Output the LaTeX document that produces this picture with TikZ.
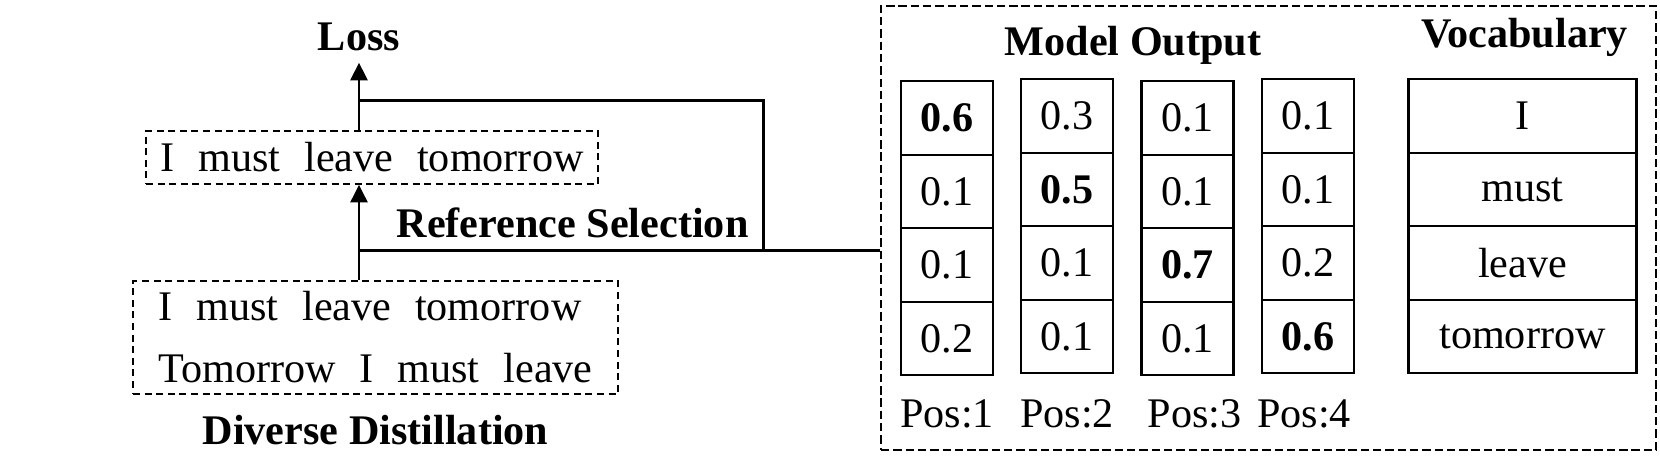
\documentclass[tikz,border=0pt]{standalone}
\usepackage{fontspec}
\setmainfont{Liberation Serif}
\usepackage{tikz}
\usetikzlibrary{arrows.meta,positioning,calc}
\newcommand{\widewords}[1]{{\spaceskip=6.8pt\relax #1}}
\tikzset{
  plaintxt/.style={inner sep=0pt, font=\fontsize{12}{14}\selectfont},
  titletxt/.style={inner sep=0pt, font=\fontsize{12}{14}\selectfont\bfseries},
  sentbox/.style={
    draw,
    dash pattern=on 2pt off 1.3pt,
    line width=0.45pt,
    align=left,
    inner sep=0pt,
    font=\fontsize{12}{17.6}\selectfont
  },
  groupbox/.style={draw, dash pattern=on 2.4pt off 1.1pt, line width=0.45pt, inner sep=0pt},
  cellbox/.style={
    draw,
    line width=0.6pt,
    minimum width=0.92cm,
    minimum height=0.735cm,
    inner sep=0pt,
    outer sep=0pt,
    font=\fontsize{12}{14}\selectfont
  },
  vocabbox/.style={cellbox, minimum width=2.28cm},
  flow/.style={-{Triangle[length=5pt,width=4.8pt]}, line width=0.8pt},
  link/.style={line width=0.8pt}
}

\begin{document}
\begin{tikzpicture}
\useasboundingbox (0,0) rectangle (16.6,-4.57);

% left side: selection of the reference
\node[titletxt] (loss) at (3.59,-0.37) {Loss};
\node[sentbox, minimum width=4.52cm, minimum height=0.53cm] (sel) at (3.72,-1.575) {\widewords{I must leave tomorrow}};
\node[sentbox, minimum width=4.85cm, minimum height=1.13cm] (cand) at (3.755,-3.375) {\widewords{I must leave tomorrow}\\\widewords{Tomorrow I must leave}};
\node[titletxt, below=0.2cm of cand] (divdist) {Diverse Distillation};
\node[titletxt] (refsel) at (5.726,-2.23) {Reference Selection};

% right side: model output and vocabulary
\node[groupbox, minimum width=7.75cm, minimum height=4.44cm] (outbox) at (12.685,-2.28) {};
\node[titletxt] (mtitle) at (11.33,-0.45) {Model Output};
\node[titletxt] (vtitle) at (15.245,-0.37) {Vocabulary};

\node[cellbox] (pos1a) at (9.47,-1.18) {\textbf{0.6}};
\node[cellbox, below=0pt of pos1a] (pos1b) {0.1};
\node[cellbox, below=0pt of pos1b] (pos1c) {0.1};
\node[cellbox, below=0pt of pos1c] (pos1d) {0.2};

\node[cellbox] (pos2a) at (10.67,-1.16) {0.3};
\node[cellbox, below=0pt of pos2a] (pos2b) {\textbf{0.5}};
\node[cellbox, below=0pt of pos2b] (pos2c) {0.1};
\node[cellbox, below=0pt of pos2c] (pos2d) {0.1};

\node[cellbox] (pos3a) at (11.875,-1.18) {0.1};
\node[cellbox, below=0pt of pos3a] (pos3b) {0.1};
\node[cellbox, below=0pt of pos3b] (pos3c) {\textbf{0.7}};
\node[cellbox, below=0pt of pos3c] (pos3d) {0.1};

\node[cellbox] (pos4a) at (13.08,-1.16) {0.1};
\node[cellbox, below=0pt of pos4a] (pos4b) {0.1};
\node[cellbox, below=0pt of pos4b] (pos4c) {0.2};
\node[cellbox, below=0pt of pos4c] (pos4d) {\textbf{0.6}};

\node[vocabbox] (vocI) at (15.225,-1.16) {I};
\node[vocabbox, below=0pt of vocI] (vocmust) {must};
\node[vocabbox, below=0pt of vocmust] (vocleave) {leave};
\node[vocabbox, below=0pt of vocleave] (voctom) {tomorrow};

\node[plaintxt, below=0.24cm of pos1d] (lab1) {Pos:1};
\node[plaintxt, below=0.26cm of pos2d] (lab2) {Pos:2};
\node[plaintxt, below=0.24cm of pos3d, xshift=0.07cm] (lab3) {Pos:3};
\node[plaintxt, below=0.26cm of pos4d, xshift=-0.04cm] (lab4) {Pos:4};

% connectors
\coordinate (jtop) at (3.59,-1.007);
\coordinate (jlow) at (3.59,-2.507);
\coordinate (bend) at (7.635,-2.507);

\draw[flow] (cand.north -| loss) -- (sel.south -| loss);
\draw[flow] (sel.north -| loss) -- ([yshift=-0.11cm]loss.south);
\draw[link] (jtop) -| (bend);
\draw[link] (jlow) -- (jlow -| outbox.west);
\end{tikzpicture}
\end{document}
